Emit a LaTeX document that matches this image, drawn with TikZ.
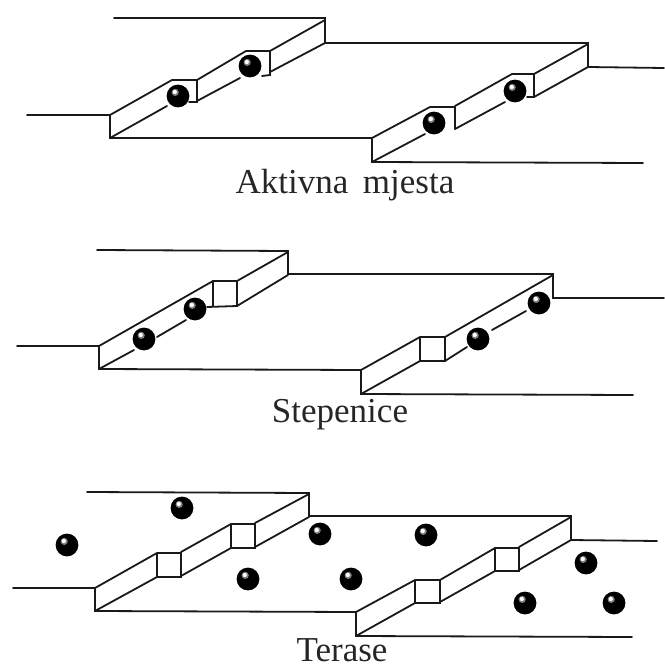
\documentclass[tikz,border=0pt]{standalone}
\usepackage{fontspec}
\setmainfont{Liberation Serif}
\tikzset{
  edge/.style={draw=black!90,line width=1.8pt,line cap=round,line join=miter},
  lbl/.style={font=\fontsize{35}{40}\selectfont,text=black!85,inner sep=0pt},
}
\newcommand{\ballat}[2]{%
  \fill[black] (#1,#2) circle[radius=11.4];
  \fill[black!50] (#1-2.8,#2-3.6) circle[radius=3.6];
  \fill[white] (#1-3.2,#2-4) circle[radius=2.1];
}
\begin{document}
\begin{tikzpicture}[x=1pt,y=-1pt]
\useasboundingbox (0,0) rectangle (664,669);
% ---------- Aktivna mjesta
\draw[edge] (114,18) -- (325,18) -- (325,43) -- (588,43) -- (588,67) -- (664,68);
\draw[edge] (27,115) -- (110,115) -- (110,138) -- (372,138) -- (372,162) -- (643,163);
\draw[edge] (110,115) -- (172,80) -- (197,80) -- (197,102) -- (189,102);
\draw[edge] (197,80) -- (246,51) -- (270,51) -- (270,75) -- (262,76);
\draw[edge] (270,51) -- (325,20);
\draw[edge] (270,72) -- (325,43);
\draw[edge] (110,138) -- (167,106);
\draw[edge] (197,101) -- (240,78);
\draw[edge] (372,138) -- (430,107) -- (455,107) -- (455,129);
\draw[edge] (455,106) -- (512,74) -- (534,74) -- (534,97) -- (527,97);
\draw[edge] (534,74) -- (588,44);
\draw[edge] (534,97) -- (588,67);
\draw[edge] (372,162) -- (425,134);
\draw[edge] (455,129) -- (505,102);
\ballat{178}{96}\ballat{250}{66}\ballat{434}{123}\ballat{515}{91}
\node[lbl] (t1) at (345,185) {Aktivna\, mjesta};
% ---------- Stepenice
\draw[edge] (97,250) -- (288,251) -- (288,274) -- (553,274) -- (553,298) -- (664,298);
\draw[edge] (17,346) -- (99,346) -- (99,369) -- (361,370) -- (361,394) -- (633,395);
\draw[edge] (99,346) -- (213,281) -- (237,281) -- (237,306) -- (207,307);
\draw[edge] (213,281) -- (213,306);
\draw[edge] (237,281) -- (288,252);
\draw[edge] (237,306) -- (288,275);
\draw[edge] (99,369) -- (134,350);
\draw[edge] (157,337) -- (186,320);
\draw[edge] (361,370) -- (420,337) -- (445,337) -- (445,361) -- (420,361) -- (420,337);
\draw[edge] (445,337) -- (553,275);
\draw[edge] (361,394) -- (420,361);
\draw[edge] (445,361) -- (467,347);
\draw[edge] (492,330) -- (526,311);
\ballat{144}{339}\ballat{195}{309}\ballat{478}{339}\ballat{539}{303}
\node[lbl] (t2) at (340,415) {Stepenice};
% ---------- Terase
\draw[edge] (87,492) -- (309,493) -- (309,516) -- (571,516) -- (571,540) -- (657,541);
\draw[edge] (13,588) -- (95,588) -- (95,611) -- (356,612) -- (356,636) -- (632,637);
\draw[edge] (95,588) -- (157,553) -- (181,553) -- (181,577) -- (157,577) -- (157,553);
\draw[edge] (181,552) -- (231,524) -- (255,524) -- (255,548) -- (231,548) -- (231,524);
\draw[edge] (255,523) -- (309,494);
\draw[edge] (95,611) -- (157,577);
\draw[edge] (181,576) -- (231,548);
\draw[edge] (255,547) -- (309,517);
\draw[edge] (356,612) -- (415,580) -- (440,580) -- (440,603) -- (415,603) -- (415,580);
\draw[edge] (440,580) -- (495,548) -- (519,548) -- (519,571) -- (495,571) -- (495,548);
\draw[edge] (519,547) -- (571,517);
\draw[edge] (356,636) -- (415,603);
\draw[edge] (440,602) -- (495,571);
\draw[edge] (519,570) -- (571,540);
\ballat{182}{508}\ballat{67}{545}\ballat{248}{579}\ballat{320}{534}\ballat{426}{535}
\ballat{351}{579}\ballat{586}{563}\ballat{525}{603}\ballat{614}{603}
\node[lbl] (t3) at (342,650) {Terase};
\end{tikzpicture}
\end{document}
